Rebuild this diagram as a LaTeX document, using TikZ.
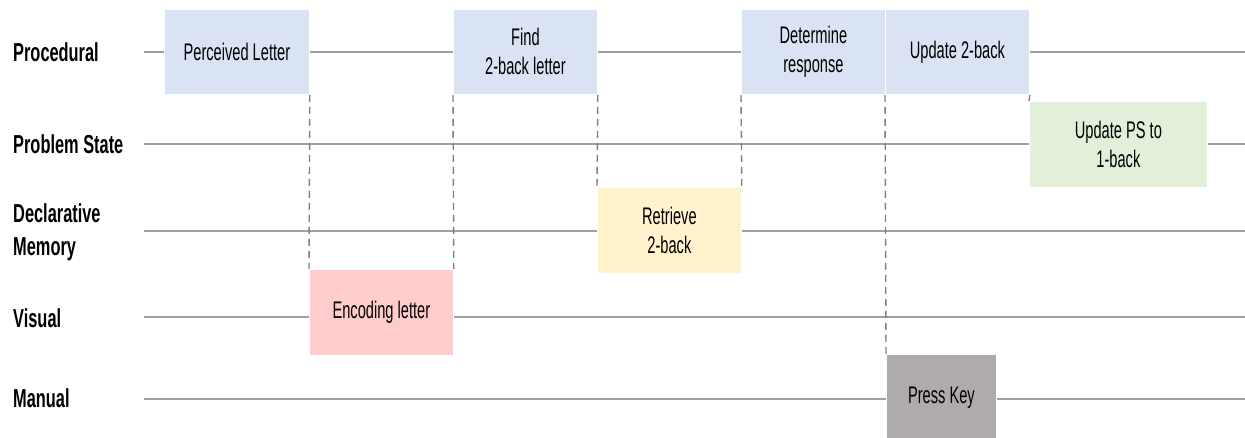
\documentclass[tikz,border=0pt]{standalone}
\usepackage{fontspec}
\setmainfont{Liberation Sans}[FakeStretch=0.61]
\newfontfamily\lanefont{Liberation Sans}[FakeStretch=0.63]
\definecolor{procblue}{HTML}{DAE3F3}
\definecolor{psgreen}{HTML}{E2F0D9}
\definecolor{memyellow}{HTML}{FFF2CC}
\definecolor{vispink}{HTML}{FFCCCC}
\definecolor{mangray}{HTML}{AFABAB}
\definecolor{laneline}{HTML}{A0A0A0}
\definecolor{dashgray}{HTML}{808080}
\tikzset{
  lane/.style={draw=laneline, line width=1.3pt},
  lanelabel/.style={anchor=west, inner sep=0pt, align=left,
    font=\lanefont\bfseries\fontsize{26}{33}\selectfont},
  opbox/.style={anchor=north west, draw=white, line width=0.8pt, inner sep=0pt,
    align=center, font=\fontsize{24}{29}\selectfont},
  handoff/.style={draw=dashgray, line width=1.4pt, dash pattern=on 7pt off 5pt}
}
\begin{document}
\begin{tikzpicture}[x=1pt, y=-1pt]
  \useasboundingbox (0,0) rectangle (1245,438);

  % module lanes
  \foreach \y/\n in {52/proc, 144/ps, 231/dm, 317/vis, 399/man} {
    \coordinate (\n-l) at (144,\y);
    \coordinate (\n-r) at (1245,\y);
    \draw[lane] (\n-l) -- (\n-r);
  }

  % lane labels
  \node[lanelabel] (lproc) at (13,52) {Procedural};
  \node[lanelabel] (lps)   at (13,144) {Problem State};
  \node[lanelabel] (ldm)   at (13,232) {Declarative\\Memory};
  \node[lanelabel] (lvis)  at (13,318) {Visual};
  \node[lanelabel] (lman)  at (13,398) {Manual};

  % operations
  \node[opbox, fill=procblue, minimum width=145pt, minimum height=85pt] (perc) at (164,9) {Perceived Letter};
  \node[opbox, fill=procblue, minimum width=144pt, minimum height=85pt] (find) at (453,9) {Find\\2-back letter};
  \node[opbox, fill=procblue, minimum width=144pt, minimum height=85pt] (det)  at (741,9) {Determine\\response};
  \node[opbox, fill=procblue, minimum width=144pt, minimum height=85pt] (upd)  at (885,9) {Update 2-back};
  \node[opbox, fill=psgreen, minimum width=178pt, minimum height=86pt] (ps)   at (1029,101) {Update PS to\\1-back};
  \node[opbox, fill=memyellow, minimum width=144pt, minimum height=86pt] (retr) at (597,187) {Retrieve\\2-back};
  \node[opbox, fill=vispink, minimum width=144pt, minimum height=86pt] (enc)  at (309,269) {Encoding letter};
  \node[opbox, fill=mangray, minimum width=110pt, minimum height=86pt] (press) at (886,354) {Press Key};

  % hand-offs between modules
  \draw[handoff] (perc.south east) -- (enc.north west);
  \draw[handoff] (find.south west) -- (enc.north east);
  \draw[handoff] (find.south east) -- (retr.north west);
  \draw[handoff] (det.south west) -- (retr.north east);
  \draw[handoff] (upd.south west) -- (press.north west);
  \draw[handoff] (upd.south east) -- (ps.north west);
\end{tikzpicture}
\end{document}
